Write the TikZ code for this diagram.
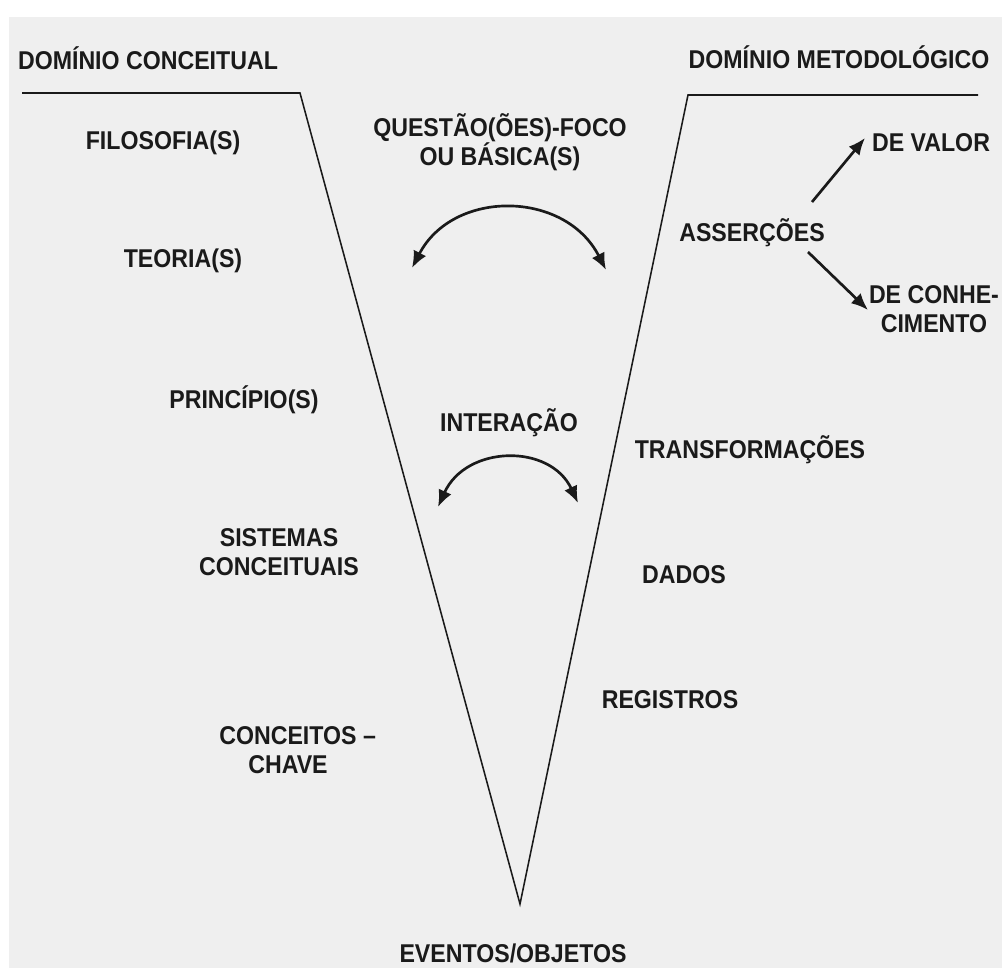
\documentclass[tikz,border=0pt]{standalone}
\usepackage{fontspec}
\setmainfont{Liberation Sans}[FakeStretch=0.9]
\usetikzlibrary{arrows.meta}
\definecolor{ink}{HTML}{1A1A1A}
\definecolor{paper}{HTML}{EFEFEF}

\begin{document}
\begin{tikzpicture}[
  x=0.025cm, y=-0.025cm,
  lbl/.style     ={font=\bfseries\fontsize{18.3}{20.6}\selectfont,text=ink,
                   align=center,inner sep=0pt},
  vline/.style   ={line width=1.1pt,draw=ink,line join=miter},
  arrow/.style   ={-{Latex[length=12pt,width=10pt]},line width=1.9pt,draw=ink},
  dblarrow/.style={{Latex[length=12pt,width=10pt]}-{Latex[length=12pt,width=10pt]},
                   line width=1.9pt,draw=ink},
]

%% ======================================================
%% Page and background
%% ======================================================
\useasboundingbox (0,0) rectangle (1002,970);
\fill[paper] (9,17) rectangle (1002,968);

%% --- The V ---
\coordinate (ltop)    at (22,93);
\coordinate (lcorner) at (300,93);
\coordinate (vtip)    at (520,904);
\coordinate (rcorner) at (688,95);
\coordinate (rtop)    at (978,95);
\draw[vline] (ltop) -- (lcorner) -- (vtip) -- (rcorner) -- (rtop);

%% ======================================================
%% Left side: conceptual domain
%% ======================================================
\node[lbl] (conceitual) at (148,58)  {DOMÍNIO CONCEITUAL};
\node[lbl] (filosofia)  at (163,143) {FILOSOFIA(S)};
\node[lbl] (teoria)     at (183,261) {TEORIA(S)};
\node[lbl] (principio)  at (244,400) {PRINCÍPIO(S)};
\node[lbl] (sistemas)   at (279,552) {SISTEMAS\\CONCEITUAIS};
\node[lbl] (conceitos)  at (288,750) {CONCEITOS\rlap{ –}\\CHAVE};

%% ======================================================
%% Centre of the V
%% ======================================================
\node[lbl] (questao)   at (500,142) {QUESTÃO(ÕES)-FOCO\\OU BÁSICA(S)};
\node[lbl] (interacao) at (509,423) {INTERAÇÃO};
\node[lbl] (eventos)   at (513,953) {EVENTOS/OBJETOS};

% --- curved double arrows ---
\coordinate (q1) at (412,268);
\coordinate (q2) at (606,270);
\draw[dblarrow] (q1) .. controls (453,189) and (565,190) .. (q2);
\coordinate (i1) at (438,507);
\coordinate (i2) at (578,503);
\draw[dblarrow] (i1) .. controls (466,445) and (550,443) .. (i2);

%% ======================================================
%% Right side: methodological domain
%% ======================================================
\node[lbl] (metodologico) at (839,57)  {DOMÍNIO METODOLÓGICO};
\node[lbl] (assercoes)    at (752,233) {ASSERÇÕES};
\node[lbl] (valor)        at (931,143) {DE VALOR};
\node[lbl] (conhecimento) at (934,309) {DE CONHE-\\CIMENTO};
\node[lbl] (transf)       at (750,450) {TRANSFORMAÇÕES};
\node[lbl] (dados)        at (684,575) {DADOS};
\node[lbl] (registros)    at (670,700) {REGISTROS};

\coordinate (av1) at (812,202);
\coordinate (av2) at (865,138);
\coordinate (ac1) at (808,252);
\coordinate (ac2) at (868,310);
\draw[arrow] (av1) -- (av2);
\draw[arrow] (ac1) -- (ac2);

\end{tikzpicture}
\end{document}
